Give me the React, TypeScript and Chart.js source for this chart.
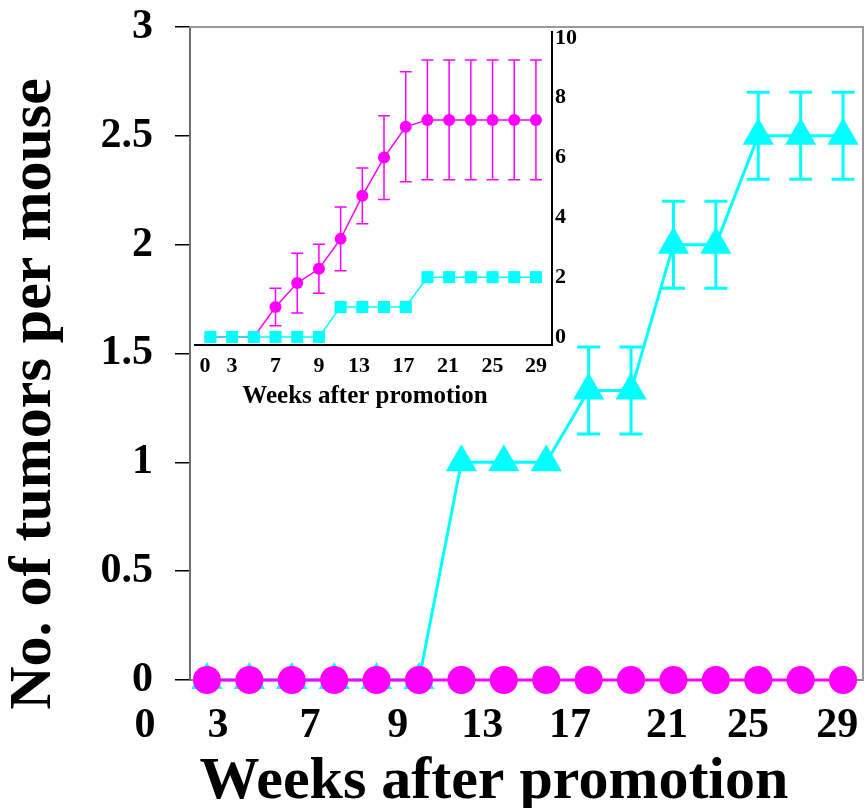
import React, { useEffect, useRef } from "react";
import { Chart, registerables } from "chart.js";

Chart.register(...registerables);

const FONT = "'Liberation Serif', 'Times New Roman', serif";

// ---------- Main chart data ----------
const pointIndex = [0, 1, 2, 3, 4, 5, 6, 7, 8, 9, 10, 11, 12, 13, 14, 15];
const mainMagenta = [0, 0, 0, 0, 0, 0, 0, 0, 0, 0, 0, 0, 0, 0, 0, 0];
const mainCyan = [0, 0, 0, 0, 0, 0, 1, 1, 1, 1.33, 1.33, 2, 2, 2.5, 2.5, 2.5];
const mainCyanErr = [0, 0, 0, 0, 0, 0, 0, 0, 0, 0.2, 0.2, 0.2, 0.2, 0.2, 0.2, 0.2];
const mainTickPos = [-1.46, 0.26, 2.43, 4.5, 6.49, 8.56, 10.85, 12.76, 14.86];
const mainTickLabels = ["0", "3", "7", "9", "13", "17", "21", "25", "29"];
const mainYTicks = [0, 0.5, 1, 1.5, 2, 2.5, 3];
const mainXTitle = "Weeks after promotion";
const mainYTitle = "No. of tumors per mouse";

// ---------- Inset chart data ----------
const insetMagenta = [0, 0, 0, 1.0, 1.8, 2.28, 3.28, 4.72, 6.0, 7.03, 7.26, 7.26, 7.26, 7.26, 7.26, 7.26];
const insetMagentaErr = [0, 0, 0, 0.63, 1.0, 0.82, 1.07, 0.93, 1.4, 1.84, 2.0, 2.0, 2.0, 2.0, 2.0, 2.0];
const insetCyan = [0, 0, 0, 0, 0, 0, 1, 1, 1, 1, 2, 2, 2, 2, 2, 2];
const insetTickPos = [-0.25, 1, 3, 5, 6.85, 8.9, 10.95, 13, 15];
const insetTickLabels = ["0", "3", "7", "9", "13", "17", "21", "25", "29"];
const insetYTicks = [0, 2, 4, 6, 8, 10];
const insetXTitle = "Weeks after promotion";

const MAGENTA = "#ff00ff";
const CYAN = "#00ffff";

function toPoints(values: number[]) {
  return pointIndex.map((x, i) => ({ x, y: values[i] }));
}

function zeroPad(s: any) {
  s.paddingLeft = 0;
  s.paddingRight = 0;
  s.paddingTop = 0;
  s.paddingBottom = 0;
}

function errorBarPlugin(id: string, items: { datasetIndex: number; errors: number[]; color: string; width: number; cap: number }[]) {
  return {
    id,
    afterDatasetsDraw(chart: any) {
      const ctx = chart.ctx;
      const xs = chart.scales.x;
      const ys = chart.scales.y;
      items.forEach((it) => {
        const ds = chart.data.datasets[it.datasetIndex];
        ds.data.forEach((p: any, i: number) => {
          const e = it.errors[i];
          if (!e) return;
          const x = xs.getPixelForValue(p.x);
          const y1 = ys.getPixelForValue(p.y + e);
          const y2 = ys.getPixelForValue(p.y - e);
          const h = it.cap / 2;
          ctx.save();
          ctx.strokeStyle = it.color;
          ctx.lineWidth = it.width;
          ctx.beginPath();
          ctx.moveTo(x, y1);
          ctx.lineTo(x, y2);
          ctx.moveTo(x - h, y1);
          ctx.lineTo(x + h, y1);
          ctx.moveTo(x - h, y2);
          ctx.lineTo(x + h, y2);
          ctx.stroke();
          ctx.restore();
        });
      });
    },
  };
}

const mainFramePlugin = {
  id: "mainFrame",
  beforeDatasetsDraw(chart: any) {
    const { ctx, chartArea } = chart;
    ctx.save();
    ctx.strokeStyle = "#9a9a9a";
    ctx.lineWidth = 2;
    ctx.beginPath();
    ctx.moveTo(chartArea.left, chartArea.top);
    ctx.lineTo(chartArea.right, chartArea.top);
    ctx.lineTo(chartArea.right, chartArea.bottom);
    ctx.stroke();
    ctx.restore();
  },
};

const mainTitlesPlugin = {
  id: "mainTitles",
  afterDraw(chart: any) {
    const ctx = chart.ctx;
    ctx.save();
    ctx.fillStyle = "#000";
    ctx.font = `bold 60px ${FONT}`;
    ctx.textAlign = "center";
    ctx.textBaseline = "alphabetic";
    ctx.fillText(mainXTitle, 494, 798);
    ctx.translate(34, 394);
    ctx.rotate(-Math.PI / 2);
    ctx.textBaseline = "middle";
    ctx.fillText(mainYTitle, 0, 0);
    ctx.restore();
  },
};

const insetTitlePlugin = {
  id: "insetTitle",
  afterDraw(chart: any) {
    const ctx = chart.ctx;
    ctx.save();
    ctx.fillStyle = "#000";
    ctx.font = `bold 25px ${FONT}`;
    ctx.textAlign = "center";
    ctx.textBaseline = "alphabetic";
    ctx.fillText(insetXTitle, 365, 403);
    ctx.restore();
  },
};

export default function App() {
  const mainRef = useRef<HTMLCanvasElement>(null);
  const insetRef = useRef<HTMLCanvasElement>(null);

  useEffect(() => {
    const main = new Chart(mainRef.current as HTMLCanvasElement, {
      type: "line",
      data: {
        datasets: [
          {
            label: "magenta",
            data: toPoints(mainMagenta),
            borderColor: MAGENTA,
            backgroundColor: MAGENTA,
            borderWidth: 3,
            pointStyle: "circle",
            pointRadius: 14,
            pointBorderWidth: 0,
            pointBackgroundColor: MAGENTA,
            clip: false,
          } as any,
          {
            label: "cyan",
            data: toPoints(mainCyan),
            borderColor: CYAN,
            backgroundColor: CYAN,
            borderWidth: 3,
            pointStyle: "triangle",
            pointRadius: 18,
            pointBorderWidth: 0,
            pointBackgroundColor: CYAN,
            clip: false,
          } as any,
        ],
      },
      options: {
        animation: false,
        responsive: false,
        devicePixelRatio: 1,
        layout: { padding: { top: 27, right: 0, left: 0, bottom: 0 } },
        plugins: { legend: { display: false }, tooltip: { enabled: false } },
        scales: {
          x: {
            type: "linear",
            min: -0.4,
            max: 15.47,
            afterBuildTicks: (s: any) => {
              s.ticks = mainTickPos.map((v) => ({ value: v }));
            },
            afterFit: (s: any) => {
              s.height = 128;
              zeroPad(s);
            },
            grid: { display: false, drawTicks: false },
            border: { display: true, color: "#888", width: 2 },
            ticks: {
              autoSkip: false,
              maxRotation: 0,
              padding: 21,
              color: "#000",
              font: { family: FONT, size: 42, weight: "bold" },
              callback: (_v: any, i: number) => mainTickLabels[i],
            },
          },
          y: {
            type: "linear",
            min: 0,
            max: 3,
            afterBuildTicks: (s: any) => {
              s.ticks = mainYTicks.map((v) => ({ value: v }));
            },
            afterFit: (s: any) => {
              s.width = 190;
              zeroPad(s);
            },
            grid: { display: true, drawOnChartArea: false, drawTicks: true, tickLength: 15, color: "#000", lineWidth: 1.5 },
            border: { display: true, color: "#6e6e6e", width: 2 },
            ticks: {
              padding: 22,
              color: "#000",
              font: { family: FONT, size: 42, weight: "bold" },
              callback: (v: any) => String(v),
            },
          },
        },
      } as any,
      plugins: [
        mainFramePlugin,
        errorBarPlugin("mainErr", [{ datasetIndex: 1, errors: mainCyanErr, color: CYAN, width: 3, cap: 23 }]),
        mainTitlesPlugin,
      ],
    });

    const inset = new Chart(insetRef.current as HTMLCanvasElement, {
      type: "line",
      data: {
        datasets: [
          {
            label: "cyan",
            data: toPoints(insetCyan),
            borderColor: CYAN,
            backgroundColor: CYAN,
            borderWidth: 1.5,
            pointStyle: "rect",
            pointRadius: 8.5,
            pointBorderWidth: 0,
            pointBackgroundColor: CYAN,
            clip: false,
          } as any,
          {
            label: "magenta",
            data: toPoints(insetMagenta),
            borderColor: MAGENTA,
            backgroundColor: MAGENTA,
            borderWidth: 1.5,
            pointStyle: "circle",
            pointRadius: 6,
            pointBorderWidth: 0,
            pointBackgroundColor: MAGENTA,
            clip: false,
          } as any,
        ],
      },
      options: {
        animation: false,
        responsive: false,
        devicePixelRatio: 1,
        layout: { padding: { top: 32, right: 0, left: 195, bottom: 0 } },
        plugins: { legend: { display: false }, tooltip: { enabled: false } },
        scales: {
          x: {
            type: "linear",
            min: -0.71,
            max: 15.74,
            afterBuildTicks: (s: any) => {
              s.ticks = insetTickPos.map((v) => ({ value: v }));
            },
            afterFit: (s: any) => {
              s.height = 75;
              zeroPad(s);
            },
            grid: { display: false, drawTicks: false },
            border: { display: true, color: "#000", width: 2 },
            ticks: {
              autoSkip: false,
              maxRotation: 0,
              padding: 8,
              color: "#000",
              font: { family: FONT, size: 22, weight: "bold" },
              callback: (_v: any, i: number) => insetTickLabels[i],
            },
          },
          y: {
            type: "linear",
            position: "right",
            min: -0.27,
            max: 10.2,
            afterBuildTicks: (s: any) => {
              s.ticks = insetYTicks.map((v) => ({ value: v }));
            },
            afterFit: (s: any) => {
              s.width = 48;
              zeroPad(s);
            },
            grid: { display: false, drawTicks: false },
            border: { display: true, color: "#000", width: 2 },
            ticks: {
              padding: 3,
              color: "#000",
              font: { family: FONT, size: 22, weight: "bold" },
              callback: (v: any) => String(v),
            },
          },
        },
      } as any,
      plugins: [
        errorBarPlugin("insetErr", [{ datasetIndex: 1, errors: insetMagentaErr, color: MAGENTA, width: 1.5, cap: 12 }]),
        insetTitlePlugin,
      ],
    });

    return () => {
      main.destroy();
      inset.destroy();
    };
  }, []);

  return (
    <div style={{ position: "absolute", left: 0, top: 0, width: 865, height: 808, background: "#fff", overflow: "hidden" }}>
      <canvas ref={mainRef} width={881} height={808} style={{ position: "absolute", left: 0, top: 0, width: 881, height: 808 }} />
      <canvas ref={insetRef} width={600} height={420} style={{ position: "absolute", left: 0, top: 0, width: 600, height: 420 }} />
    </div>
  );
}
